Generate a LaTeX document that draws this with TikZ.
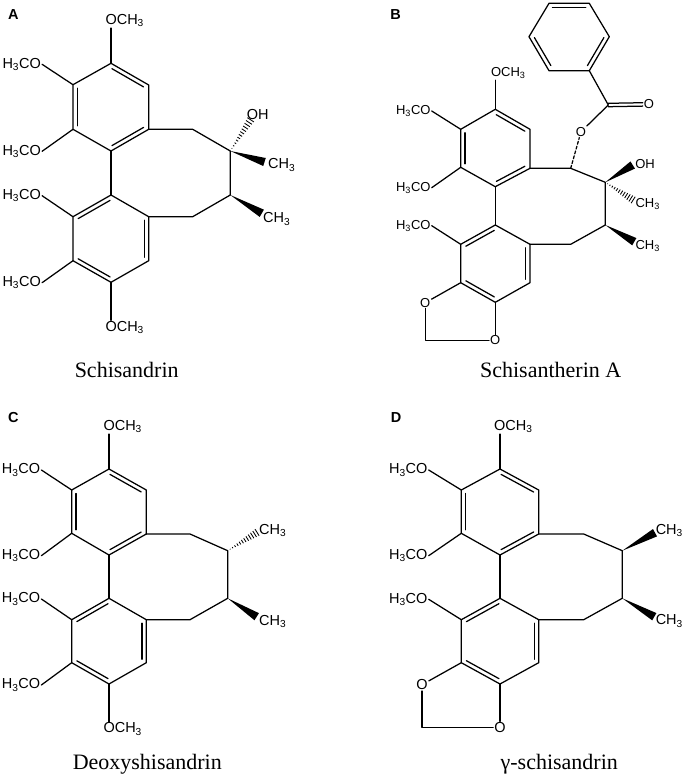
\documentclass[tikz,border=0pt]{standalone}
\usepackage{fontspec}
\setmainfont{Liberation Serif}
\newfontfamily\labelsans{Liberation Sans}
\usetikzlibrary{calc}
\tikzset{
  bond/.style={line width=1.25pt,line join=round,line cap=round},
  atomlabel/.style={inner sep=1pt,font=\labelsans\fontsize{14.5}{16}\selectfont},
  atomsmall/.style={inner sep=1pt,font=\labelsans\fontsize{13}{15}\selectfont},
  panelletter/.style={inner sep=0pt,font=\labelsans\bfseries\fontsize{14.5}{16}\selectfont},
  caption/.style={inner sep=0pt,font=\fontsize{22}{24}\selectfont}
}
% Inner line of a double bond, on the right of a -> b
\newcommand{\innerbond}[2]{\draw [bond,shorten <=3.5pt,shorten >=3.5pt] ($(#1)!4.2pt!-90:(#2)$) -- ($(#2)!4.2pt!90:(#1)$);}
% Solid wedge, tip at a and base at b
\newcommand{\wedgebond}[2]{\fill ($(#1)$) -- ($(#2)!4.2pt!90:(#1)$) -- ($(#2)!4.2pt!-90:(#1)$) -- cycle;}
% Hashed wedge, tip at a and widest at b
\newcommand{\hashbond}[2]{\foreach \t in {0.08,0.16,...,1.01} {\draw [line width=0.85pt] ($(#1)!\t!(#2)!\t*4pt!90:(#1)$) -- ($(#1)!\t!(#2)!\t*4pt!-90:(#1)$);}}
\begin{document}
\begin{tikzpicture}[x=1pt,y=-1pt]
\useasboundingbox (0,0) rectangle (686,780);

% Panel A, ring atoms
\coordinate (Aa1) at (111.0,63.3); \coordinate (Aa2) at (148.7,85.0); \coordinate (Aa3) at (148.7,129.3);
\coordinate (Aa4) at (111.0,151.0); \coordinate (Aa5) at (73.0,129.3); \coordinate (Aa6) at (73.0,84.7);
\coordinate (Ab1) at (111.0,195.0); \coordinate (Ab2) at (148.7,216.7); \coordinate (Ab3) at (148.7,260.7);
\coordinate (Ab4) at (111.0,282.3); \coordinate (Ab5) at (73.0,260.7); \coordinate (Ab6) at (73.0,216.7);
\coordinate (Ac1) at (192.7,129.3); \coordinate (Ac2) at (230.3,151.0); \coordinate (Ac3) at (230.3,195.0); \coordinate (Ac4) at (192.7,216.7);
\coordinate (Aw1) at (264.5,162.0); \coordinate (Aw2) at (261.8,213.3); \coordinate (Ah1) at (251.5,118.5);

% Panel A, labels
\node [panelletter] (Aletter) at (13.3,15) {A};
\node [atomlabel] (Ame1) at (124.7,20.7) {OCH\textsubscript{3}};
\node [atomlabel] (Ame2) at (21.7,64.3) {H\textsubscript{3}CO};
\node [atomlabel] (Ame3) at (21.7,151.3) {H\textsubscript{3}CO};
\node [atomlabel] (Ame4) at (21.7,195.7) {H\textsubscript{3}CO};
\node [atomlabel] (Ame5) at (21.7,282.7) {H\textsubscript{3}CO};
\node [atomlabel] (Ame6) at (124.7,327.7) {OCH\textsubscript{3}};
\node [atomlabel] (Aoh) at (257.7,114.3) {OH};
\node [atomlabel] (Ach1) at (281.7,165) {CH\textsubscript{3}};
\node [atomlabel] (Ach2) at (276.7,219) {CH\textsubscript{3}};
\node [caption] (Aname) at (126.7,370) {Schisandrin};

% Panel A, bonds
\draw [bond] (Aa1) -- (Aa2) -- (Aa3) -- (Aa4) -- (Aa5) -- (Aa6) -- cycle;
\draw [bond] (Ab1) -- (Ab2) -- (Ab3) -- (Ab4) -- (Ab5) -- (Ab6) -- cycle;
\draw [bond] (Aa4) -- (Ab1);
\draw [bond] (Aa3) -- (Ac1) -- (Ac2) -- (Ac3) -- (Ac4) -- (Ab2);
\innerbond{Aa1}{Aa2} \innerbond{Aa3}{Aa4} \innerbond{Aa5}{Aa6}
\innerbond{Ab6}{Ab1} \innerbond{Ab2}{Ab3} \innerbond{Ab4}{Ab5}
\draw [bond] (Aa1) -- (Aa1 |- Ame1.south);
\draw [bond] (Aa6) -- (Ame2.east);
\draw [bond] (Aa5) -- (Ame3.east);
\draw [bond] (Ab6) -- (Ame4.east);
\draw [bond] (Ab5) -- (Ame5.east);
\draw [bond] (Ab4) -- (Ab4 |- Ame6.north);
\hashbond{Ac2}{Ah1}
\wedgebond{Ac2}{Aw1}
\wedgebond{Ac3}{Aw2}

% Panel B, ring atoms
\coordinate (Ba1) at (495.3,109.3); \coordinate (Ba2) at (530.0,129.3); \coordinate (Ba3) at (530.0,168.3);
\coordinate (Ba4) at (495.3,186.7); \coordinate (Ba5) at (460.7,167.3); \coordinate (Ba6) at (460.7,129.3);
\coordinate (Bb1) at (495.3,225.0); \coordinate (Bb2) at (530.0,244.3); \coordinate (Bb3) at (530.0,282.7);
\coordinate (Bb4) at (495.3,302.3); \coordinate (Bb5) at (460.7,282.7); \coordinate (Bb6) at (460.7,244.3);
\coordinate (Bc1) at (570.7,168.3); \coordinate (Bc2) at (605.3,182.3); \coordinate (Bc3) at (605.3,225.0); \coordinate (Bc4) at (570.7,244.3);
\coordinate (Bp1) at (589.3,70.7); \coordinate (Bp2) at (609.3,36.7); \coordinate (Bp3) at (589.3,3.3);
\coordinate (Bp4) at (549.0,3.3); \coordinate (Bp5) at (529.0,36.7); \coordinate (Bp6) at (549.0,70.7);
\coordinate (Bco) at (608.3,105.0); \coordinate (Bch2) at (425.3,340.3);
\coordinate (Bw1) at (632.7,165.0); \coordinate (Bw2) at (634.3,241.7); \coordinate (Bh1) at (634.3,200.7);

% Panel B, labels
\node [panelletter] (Bletter) at (395.7,14.3) {B};
\node [atomsmall] (Bme1) at (508.3,73.3) {OCH\textsubscript{3}};
\node [atomsmall] (Bme2) at (413.3,111) {H\textsubscript{3}CO};
\node [atomsmall] (Bme3) at (413.3,187.7) {H\textsubscript{3}CO};
\node [atomsmall] (Bme4) at (413.3,225.7) {H\textsubscript{3}CO};
\node [atomsmall] (Boh) at (645,164) {OH};
\node [atomsmall] (Bch3a) at (647.7,204) {CH\textsubscript{3}};
\node [atomsmall] (Bch3b) at (647.7,246) {CH\textsubscript{3}};
\node [atomsmall] (Boe) at (581,131.7) {O};
\node [atomsmall] (Bod) at (649,104.3) {O};
\node [atomsmall] (Bo1) at (425.3,302.7) {O};
\node [atomsmall] (Bo2) at (495.3,340.3) {O};
\node [caption] (Bname) at (550.7,370) {Schisantherin A};

% Panel B, bonds
\draw [bond] (Ba1) -- (Ba2) -- (Ba3) -- (Ba4) -- (Ba5) -- (Ba6) -- cycle;
\draw [bond] (Bb1) -- (Bb2) -- (Bb3) -- (Bb4) -- (Bb5) -- (Bb6) -- cycle;
\draw [bond] (Bp1) -- (Bp2) -- (Bp3) -- (Bp4) -- (Bp5) -- (Bp6) -- cycle;
\draw [bond] (Ba4) -- (Bb1);
\draw [bond] (Ba3) -- (Bc1) -- (Bc2) -- (Bc3) -- (Bc4) -- (Bb2);
\innerbond{Ba1}{Ba2} \innerbond{Ba3}{Ba4} \innerbond{Ba5}{Ba6}
\innerbond{Bb6}{Bb1} \innerbond{Bb2}{Bb3} \innerbond{Bb4}{Bb5}
\innerbond{Bp4}{Bp3} \innerbond{Bp2}{Bp1} \innerbond{Bp6}{Bp5}
\draw [bond] (Ba1) -- (Ba1 |- Bme1.south);
\draw [bond] (Ba6) -- (Bme2.east);
\draw [bond] (Ba5) -- (Bme3.east);
\draw [bond] (Bb6) -- (Bme4.east);
\draw [bond] (Bp1) -- (Bco);
\draw [bond] (Bco) -- (Boe);
\draw [bond,dashed,dash pattern=on 3pt off 2pt] (Bc1) -- (Boe);
\draw [bond,transform canvas={yshift=1.7pt}] (Bco) -- (Bod);
\draw [bond,transform canvas={yshift=-1.7pt}] (Bco) -- (Bod);
\draw [bond] (Bb5) -- (Bo1);
\draw [bond] (Bo1) -- (Bch2) -- (Bo2);
\draw [bond] (Bo2) -- (Bb4);
\wedgebond{Bc2}{Bw1}
\hashbond{Bc2}{Bh1}
\wedgebond{Bc3}{Bw2}

% Panel C, ring atoms
\coordinate (Ca1) at (109.0,469.0); \coordinate (Ca2) at (146.3,490.0); \coordinate (Ca3) at (146.3,534.0);
\coordinate (Ca4) at (109.0,555.0); \coordinate (Ca5) at (71.7,533.3); \coordinate (Ca6) at (71.7,490.0);
\coordinate (Cb1) at (109.0,598.3); \coordinate (Cb2) at (146.3,619.7); \coordinate (Cb3) at (146.3,662.7);
\coordinate (Cb4) at (109.0,684.0); \coordinate (Cb5) at (71.7,662.7); \coordinate (Cb6) at (71.7,619.7);
\coordinate (Cc1) at (190.0,534.0); \coordinate (Cc2) at (227.7,550.7); \coordinate (Cc3) at (227.7,598.3); \coordinate (Cc4) at (190.0,619.7);
\coordinate (Ch1) at (258.3,531.7); \coordinate (Cw1) at (256.7,616.7);

% Panel C, labels
\node [panelletter] (Cletter) at (13.3,417.3) {C};
\node [atomlabel] (Cme1) at (122.7,426.7) {OCH\textsubscript{3}};
\node [atomlabel] (Cme2) at (21,470) {H\textsubscript{3}CO};
\node [atomlabel] (Cme3) at (21,555.7) {H\textsubscript{3}CO};
\node [atomlabel] (Cme4) at (21,599) {H\textsubscript{3}CO};
\node [atomlabel] (Cme5) at (21,685) {H\textsubscript{3}CO};
\node [atomlabel] (Cme6) at (122.7,729) {OCH\textsubscript{3}};
\node [atomlabel] (Cch1) at (272.7,530.7) {CH\textsubscript{3}};
\node [atomlabel] (Cch2) at (272.7,621.7) {CH\textsubscript{3}};
\node [caption] (Cname) at (147.3,764) {Deoxyshisandrin};

% Panel C, bonds
\draw [bond] (Ca1) -- (Ca2) -- (Ca3) -- (Ca4) -- (Ca5) -- (Ca6) -- cycle;
\draw [bond] (Cb1) -- (Cb2) -- (Cb3) -- (Cb4) -- (Cb5) -- (Cb6) -- cycle;
\draw [bond] (Ca4) -- (Cb1);
\draw [bond] (Ca3) -- (Cc1) -- (Cc2) -- (Cc3) -- (Cc4) -- (Cb2);
\innerbond{Ca1}{Ca2} \innerbond{Ca3}{Ca4} \innerbond{Ca5}{Ca6}
\innerbond{Cb6}{Cb1} \innerbond{Cb2}{Cb3} \innerbond{Cb4}{Cb5}
\draw [bond] (Ca1) -- (Ca1 |- Cme1.south);
\draw [bond] (Ca6) -- (Cme2.east);
\draw [bond] (Ca5) -- (Cme3.east);
\draw [bond] (Cb6) -- (Cme4.east);
\draw [bond] (Cb5) -- (Cme5.east);
\draw [bond] (Cb4) -- (Cb4 |- Cme6.north);
\hashbond{Cc2}{Ch1}
\wedgebond{Cc3}{Cw1}

% Panel D, ring atoms
\coordinate (Da1) at (500.0,469.0); \coordinate (Da2) at (538.7,490.0); \coordinate (Da3) at (538.7,534.0);
\coordinate (Da4) at (500.0,555.0); \coordinate (Da5) at (461.3,533.3); \coordinate (Da6) at (461.3,490.0);
\coordinate (Db1) at (500.0,598.3); \coordinate (Db2) at (538.7,619.7); \coordinate (Db3) at (538.7,662.7);
\coordinate (Db4) at (500.0,684.0); \coordinate (Db5) at (461.3,662.7); \coordinate (Db6) at (461.3,619.7);
\coordinate (Dc1) at (583.7,534.0); \coordinate (Dc2) at (622.3,550.7); \coordinate (Dc3) at (622.3,598.3); \coordinate (Dc4) at (583.7,619.7);
\coordinate (Dch2) at (422.0,727.7);
\coordinate (Dw1) at (655.0,532.7); \coordinate (Dw2) at (654.3,616.7);

% Panel D, labels
\node [panelletter] (Dletter) at (396,418) {D};
\node [atomlabel] (Dme1) at (513.3,426.7) {OCH\textsubscript{3}};
\node [atomlabel] (Dme2) at (408.3,470) {H\textsubscript{3}CO};
\node [atomlabel] (Dme3) at (408.3,555.7) {H\textsubscript{3}CO};
\node [atomlabel] (Dme4) at (408.3,599.3) {H\textsubscript{3}CO};
\node [atomlabel] (Dch1) at (669.3,530.7) {CH\textsubscript{3}};
\node [atomlabel] (Dch3) at (669.3,621) {CH\textsubscript{3}};
\node [atomlabel] (Do1) at (422,684.7) {O};
\node [atomlabel] (Do2) at (500,727.7) {O};
\node [caption] (Dname) at (559.3,764) {γ-schisandrin};

% Panel D, bonds
\draw [bond] (Da1) -- (Da2) -- (Da3) -- (Da4) -- (Da5) -- (Da6) -- cycle;
\draw [bond] (Db1) -- (Db2) -- (Db3) -- (Db4) -- (Db5) -- (Db6) -- cycle;
\draw [bond] (Da4) -- (Db1);
\draw [bond] (Da3) -- (Dc1) -- (Dc2) -- (Dc3) -- (Dc4) -- (Db2);
\innerbond{Da1}{Da2} \innerbond{Da3}{Da4} \innerbond{Da5}{Da6}
\innerbond{Db6}{Db1} \innerbond{Db2}{Db3} \innerbond{Db4}{Db5}
\draw [bond] (Da1) -- (Da1 |- Dme1.south);
\draw [bond] (Da6) -- (Dme2.east);
\draw [bond] (Da5) -- (Dme3.east);
\draw [bond] (Db6) -- (Dme4.east);
\draw [bond] (Db5) -- (Do1);
\draw [bond] (Do1) -- (Dch2) -- (Do2);
\draw [bond] (Do2) -- (Db4);
\wedgebond{Dc2}{Dw1}
\wedgebond{Dc3}{Dw2}
\end{tikzpicture}
\end{document}
